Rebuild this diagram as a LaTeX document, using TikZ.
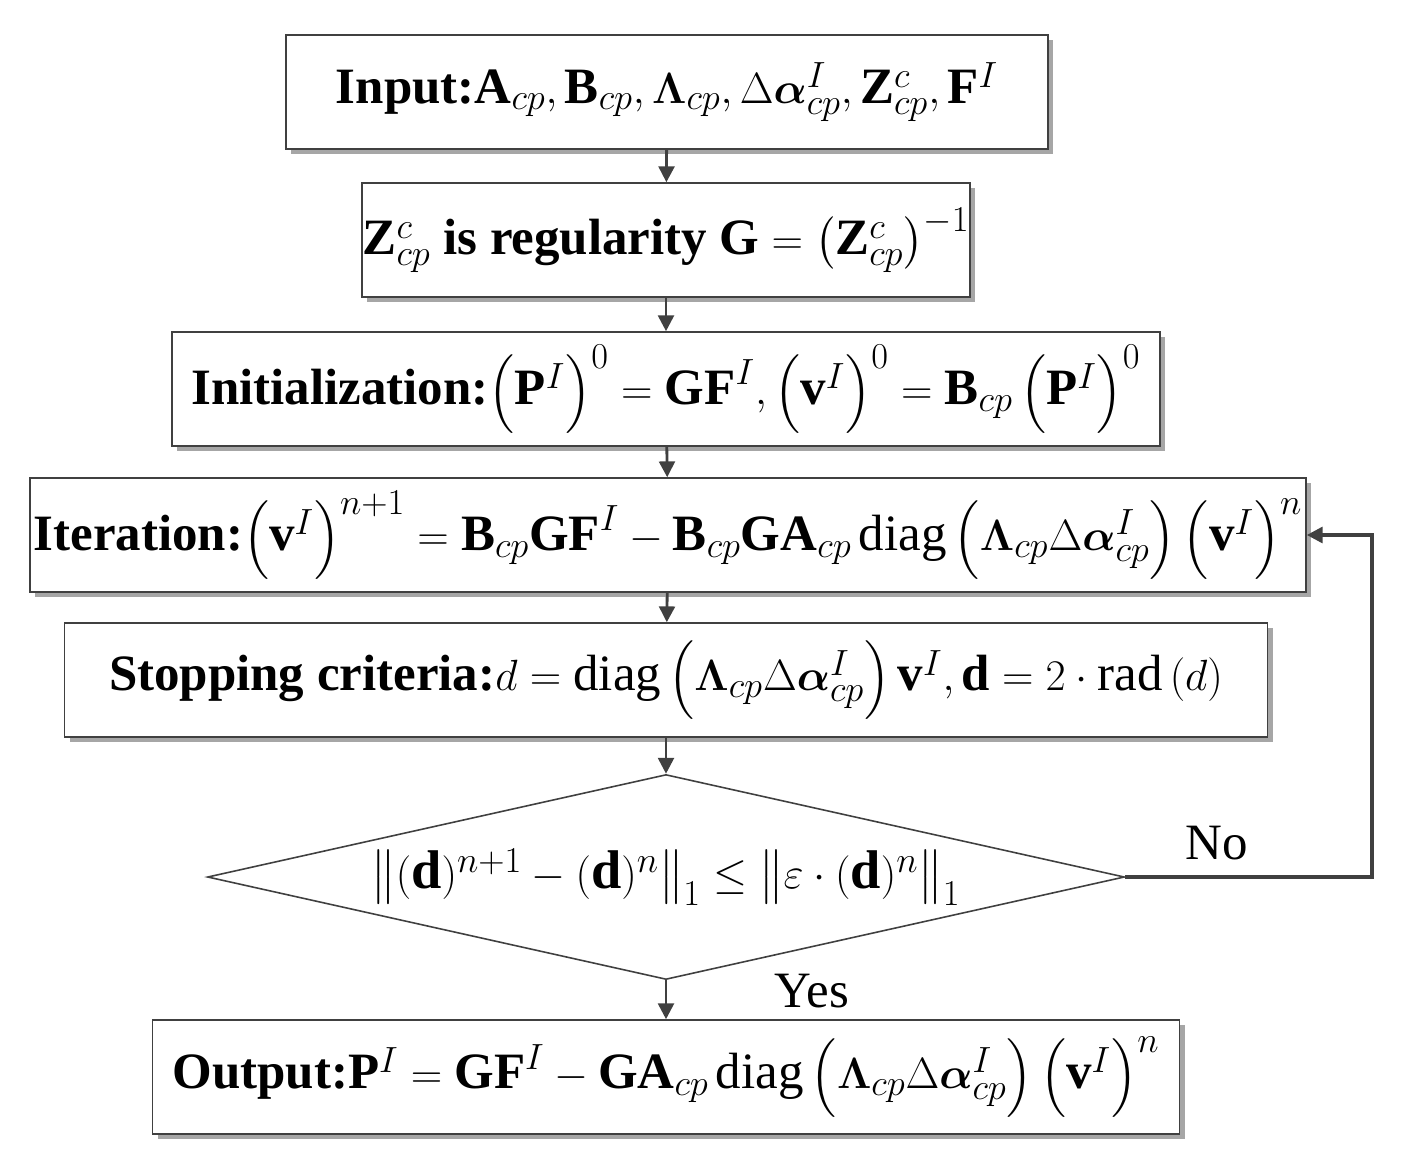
\documentclass[tikz,border=0pt]{standalone}
\usepackage{amsmath,bm}
\usepackage{fontspec}
\setmainfont{Liberation Serif}
\usetikzlibrary{shapes.geometric,arrows.meta,shadows}
\begin{document}
\begin{tikzpicture}[x=0.02cm,y=-0.02cm,
  box/.style={draw=black!75,line width=0.9pt,fill=white,minimum height=114*0.02cm,inner sep=0pt,
    drop shadow={shadow xshift=3pt,shadow yshift=-3pt,fill=black!35,opacity=1},
    font=\fontsize{29}{34}\selectfont},
  arr/.style={draw=black!75,line width=1.6pt,-{Triangle[length=9pt,width=9pt]}}]
\useasboundingbox (0,0) rectangle (1408,1166);
\node[box,minimum width=762*0.02cm] (in) at (667,92) {\textbf{Input:}$\mathbf A_{cp},\mathbf B_{cp},\bm\Lambda_{cp},\Delta\bm\alpha^I_{cp},\mathbf Z^c_{cp},\mathbf F^I$};
\node[box,minimum width=608*0.02cm] (z) at (666,240) {$\mathbf Z^c_{cp}$ \textbf{is regularity} $\mathbf G=\left(\mathbf Z^c_{cp}\right)^{-1}$};
\node[box,minimum width=988*0.02cm] (ini) at (666,389) {\textbf{Initialization:}$\left(\mathbf P^I\right)^0=\mathbf{GF}^I,\left(\mathbf v^I\right)^0=\mathbf B_{cp}\left(\mathbf P^I\right)^0$};
\node[box,minimum width=1276*0.02cm] (it) at (668,535) {\textbf{Iteration:}$\left(\mathbf v^I\right)^{n+1}=\mathbf B_{cp}\mathbf{GF}^I-\mathbf B_{cp}\mathbf{GA}_{cp}\,\mathrm{diag}\left(\bm\Lambda_{cp}\Delta\bm\alpha^I_{cp}\right)\left(\mathbf v^I\right)^n$};
\node[box,minimum width=1203*0.02cm] (st) at (666,680) {\textbf{Stopping criteria:}$d=\mathrm{diag}\left(\bm\Lambda_{cp}\Delta\bm\alpha^I_{cp}\right)\mathbf v^I,\mathbf d=2\cdot\mathrm{rad}\left(d\right)$};
\node[draw=black!75,line width=0.9pt,diamond,aspect=4.47,inner sep=0pt,minimum width=917*0.02cm,minimum height=205*0.02cm,font=\fontsize{31}{36}\selectfont] (dm) at (666,877) {$\left\|(\mathbf d)^{n+1}-(\mathbf d)^n\right\|_1\le\left\|\varepsilon\cdot(\mathbf d)^n\right\|_1$};
\node[box,minimum width=1027*0.02cm] (out) at (666,1077) {\textbf{Output:}$\mathbf P^I=\mathbf{GF}^I-\mathbf{GA}_{cp}\,\mathrm{diag}\left(\bm\Lambda_{cp}\Delta\bm\alpha^I_{cp}\right)\left(\mathbf v^I\right)^n$};
\draw[arr] (in) -- (z);
\draw[arr] (z) -- (ini);
\draw[arr] (ini) -- (it);
\draw[arr] (it) -- (st);
\draw[arr] (st) -- (dm);
\draw[arr] (dm) -- (out);
\coordinate (c1) at (1372,877);
\coordinate (c2) at (1372,535);
\draw[arr,line width=2pt] (dm.east) -- (c1) -- (c2) -- (it.east);
\node[font=\fontsize{29}{34}\selectfont] (no) at (1217,843) {No};
\node[font=\fontsize{29}{34}\selectfont] (yes) at (812,991) {Yes};
\end{tikzpicture}
\end{document}
